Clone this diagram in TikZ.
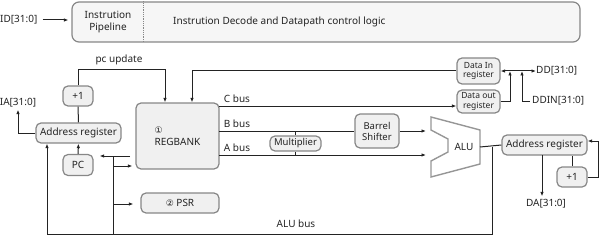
\documentclass[tikz,border=0pt]{standalone}
\usepackage{fontspec}
\setmainfont{Noto Sans}
\newfontfamily\symfont{DejaVu Sans}
\usetikzlibrary{arrows.meta, positioning, calc}
\definecolor{BF}{RGB}{240,240,240}
\definecolor{BD}{RGB}{135,135,135}
\definecolor{AG}{RGB}{150,150,150}
\definecolor{LN}{RGB}{35,35,35}

\begin{document}
\begin{tikzpicture}[x=1pt, y=-1pt,
  box/.style={draw=BD, line width=1.2pt, rounded corners=5pt, fill=BF,
              inner sep=0pt, align=center, text=LN,
              font=\fontsize{10}{12}\selectfont},
  small/.style={font=\fontsize{8.5}{9.5}\selectfont},
  lbl/.style={inner sep=0pt, text=LN, font=\fontsize{10}{12}\selectfont},
  wire/.style={draw=LN, line width=1pt},
  arr/.style={wire, -{Latex[length=4.5pt, width=3.5pt]}}
]
\useasboundingbox (0,0) rectangle (600,238);

% control logic
\node[box, minimum width=508pt, minimum height=40pt, rounded corners=7pt, fill=BF!60] (ctrl) at (326,22) {};
\draw[BD, densely dotted, line width=0.8pt] ($(ctrl.north west)+(72,0)$) -- ($(ctrl.south west)+(72,0)$);
\node[lbl, align=center] (pipe) at (108,22) {Instrution\\Pipeline};
\node[lbl, anchor=west] (decode) at (173,22) {Instrution Decode and Datapath control logic};
\node[lbl, anchor=west] (id) at (0,20) {ID[31:0]};
\draw[arr, shorten <=5pt, shorten >=3pt] (id.east) -- (id.east -| ctrl.west);

% address side
\node[box, minimum width=30pt, minimum height=20pt] (plus1) at (78,96) {+1};
\node[box, minimum width=85pt, minimum height=20pt] (addrL) at (78.5,133) {Address register};
\node[box, minimum width=30pt, minimum height=21pt] (pcreg) at (78,165) {PC};
\node[lbl] (ia) at (18,103) {IA[31:0]};
\node[lbl] (pclbl) at (119,60) {pc update};

% register bank and PSR
\node[box, minimum width=83pt, minimum height=66pt, align=left] (regbank) at (177.5,136) {{\symfont\small ①}\\REGBANK};
\node[box, minimum width=78pt, minimum height=20pt] (psr) at (180,203) {{\symfont\small ②} PSR};

% datapath
\node[box, minimum width=51pt, minimum height=15pt, font=\fontsize{9.5}{11}\selectfont] (mult) at (295.5,143.5) {Multiplier};
\node[box, minimum width=44pt, minimum height=34pt, font=\fontsize{9.5}{11}\selectfont] (barrel) at (377,131) {Barrel\\Shifter};
\node[box, small, minimum width=43pt, minimum height=26pt] (datain) at (478.5,71) {Data In\\register};
\node[box, small, minimum width=43pt, minimum height=23pt] (dataout) at (478.5,101.5) {Data out\\register};
\draw[AG, line width=1.4pt] (431,117) -- (480,130) -- (480,164) -- (431,177) -- (431,161)
  -- (448,152) -- (448,139) -- (431,130) -- cycle;
\node[lbl] (alu) at (464,147) {ALU};
\node[box, minimum width=85pt, minimum height=20pt] (addrR) at (544.5,145) {Address register};
\node[box, minimum width=30pt, minimum height=20pt] (plus1R) at (572,177) {+1};
\node[lbl] (da) at (546,204) {DA[31:0]};
\node[lbl, anchor=west] (dd) at (536,71) {DD[31:0]};
\node[lbl, anchor=west] (ddin) at (532,101) {DDIN[31:0]};

\node[lbl] (cl) at (237,99) {C bus};
\node[lbl] (bl) at (237,123.5) {B bus};
\node[lbl] (al) at (237,148) {A bus};
\node[lbl] (alubus) at (296,224) {ALU bus};

\coordinate (pcup) at (165,70);
\coordinate (dinrb) at (192,71);
\coordinate (cbus) at (219,106);
\coordinate (bbus) at (219,131);
\coordinate (abus) at (219,155);
\coordinate (aluB) at (426,131);
\coordinate (aluA) at (426,155);
\coordinate (aluout) at (480,147);
\coordinate (tap) at (492,147);
\coordinate (busL) at (47,234);
\coordinate (busM) at (113,234);
\coordinate (stub) at (130,156);
\coordinate (rbfeed) at (113,166);
\coordinate (psrfeed) at (113,204);
\coordinate (fbR) at (598,141);
\coordinate (daout) at (542,155);
\coordinate (dojoin) at (510,71);
\coordinate (dinjoin) at (522,71);

\draw[arr] (plus1.north) |- (pcup) -- (pcup |- regbank.north);
\draw[wire] (plus1.south) -- (addrL.north);
\draw[arr, shorten >=2pt] (addrL.west) -| (ia.south);
\draw[arr] (pcreg.north) -- (addrL.south);
\draw[arr] (datain.west) -- (dinrb) -- (dinrb |- regbank.north);
\draw[arr] (cbus) -- (cbus -| dataout.west);
\draw[wire] (bbus) -- (barrel.west);
\draw[arr] (barrel.east) -- (aluB);
\draw[arr] (abus) -- (aluA);
\draw[wire] (mult.north) -- (mult.north |- bbus);
\draw[wire] (mult.south) -- (mult.south |- abus);
\draw[wire] (aluout) -- (addrR.west);
\draw[arr] (tap) |- (busL) -- (busL |- addrL.south);
\draw[wire] (busM) -- (stub -| busM);
\draw[arr] (stub) -- ([xshift=6pt]pcreg.east |- stub);
\draw[arr, shorten >=3pt] (rbfeed) -- (rbfeed -| regbank.west);
\draw[arr, shorten >=7pt] (psrfeed) -- (psrfeed -| psr.west);
\draw[arr, shorten >=3pt] (daout) -- (daout |- da.north);
\draw[wire] (plus1R.north) -- (plus1R.north |- addrR.south);
\draw[arr] (plus1R.east) -| (fbR) -- (fbR -| addrR.east);
\draw[wire, {Latex[length=4.5pt, width=3.5pt]}-{Latex[length=4.5pt, width=3.5pt]}] (datain.east) -- (dd.west);
\draw[arr] (dataout.east) -| (dojoin);
\draw[arr, shorten <=2pt] (ddin.west) -| (dinjoin);
\end{tikzpicture}
\end{document}
